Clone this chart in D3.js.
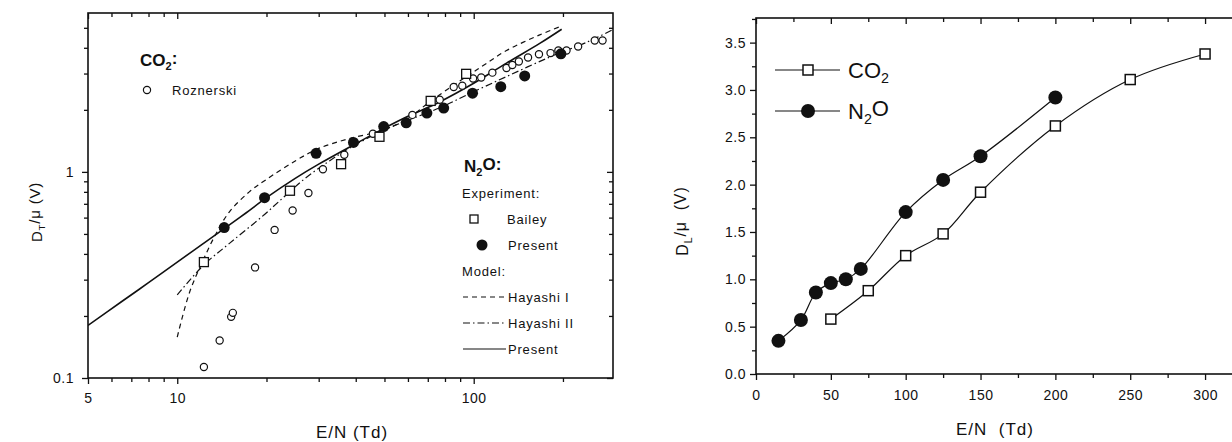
<!DOCTYPE html>
<html>
<head>
<meta charset="utf-8">
<script src="https://cdn.jsdelivr.net/npm/d3@7"></script>
<style>
body { margin: 0; background: #fff; }
svg { display: block; font-family: Arial, "Liberation Sans", sans-serif; }
.tick text { font-size: 14px; fill: #111; letter-spacing: 0.5px; }
.tick line { stroke: #111; stroke-width: 1.3; }
</style>
</head>
<body>
<script>
// ---- left panel: D_T/mu vs E/N (log-log)
const roznerskiX = [12.3, 13.9, 15.2, 15.4, 18.3, 21.3, 24.5, 27.7, 31.0, 36.6, 45.7, 62.1, 76.8, 85.6, 91.5, 99.5, 106, 115.6, 129, 135, 142, 152.5, 166, 181.6, 193, 205.6, 225, 256, 272]
const roznerskiY = [0.113, 0.152, 0.198, 0.207, 0.344, 0.523, 0.65, 0.79, 1.03, 1.21, 1.53, 1.89, 2.24, 2.58, 2.62, 2.84, 2.87, 3.03, 3.19, 3.30, 3.43, 3.59, 3.72, 3.77, 3.88, 3.88, 4.06, 4.34, 4.34]
const baileyX = [12.3, 24.0, 35.7, 48.1, 71.6, 94.3]
const baileyY = [0.365, 0.81, 1.09, 1.48, 2.21, 2.99]
const presentX = [14.4, 19.7, 29.4, 39.3, 49.7, 59.2, 69.5, 79.2, 99.1, 123.4, 148.6, 196.8]
const presentY = [0.537, 0.75, 1.23, 1.39, 1.66, 1.73, 1.93, 2.04, 2.41, 2.59, 2.92, 3.74]
const modelX = [5, 6.5, 8, 10, 12, 14.4, 17, 20, 25, 30, 40, 50, 60, 77, 100, 129, 167, 198]
const modelY = [0.18, 0.235, 0.29, 0.365, 0.44, 0.53, 0.63, 0.75, 0.93, 1.09, 1.37, 1.63, 1.86, 2.19, 2.69, 3.37, 4.2, 4.92]
const hay1X = [10, 11, 12.2, 13.5, 15, 17.5, 20, 25, 30, 38, 50, 60, 70, 85, 97, 110, 129, 167, 198]
const hay1Y = [0.158, 0.26, 0.37, 0.5, 0.64, 0.8, 0.92, 1.13, 1.3, 1.45, 1.6, 1.82, 2.15, 2.62, 2.97, 3.35, 3.88, 4.62, 5.1]
const hay2X = [10, 12.2, 15, 19.4, 23, 27, 32.6, 38, 49, 60, 77, 97, 129, 180, 240, 295]
const hay2Y = [0.253, 0.35, 0.45, 0.61, 0.76, 0.93, 1.13, 1.3, 1.58, 1.78, 2.05, 2.4, 2.9, 3.6, 4.25, 4.9]
const leftXTicks = [5, 10, 100]
const leftYTicks = [0.1, 1]

// ---- right panel: D_L/mu vs E/N
const co2X = [50, 75, 100, 125, 150, 200, 250, 300]
const co2Y = [0.58, 0.88, 1.25, 1.48, 1.92, 2.62, 3.11, 3.38]
const n2oX = [15, 30, 40, 50, 60, 70, 100, 125, 150, 200]
const n2oY = [0.35, 0.57, 0.86, 0.96, 1.0, 1.11, 1.71, 2.05, 2.30, 2.92]
const rightXTicks = [0, 50, 100, 150, 200, 250, 300]
const rightYTicks = [0, 0.5, 1.0, 1.5, 2.0, 2.5, 3.0, 3.5]

const W = 1232, H = 442
const svg = d3.select('body').append('svg').attr('width', W).attr('height', H)

const zip = (xs, ys) => xs.map((x, i) => [x, ys[i]])

function frame(g, x0, y0, x1, y1) {
    g.append('rect')
        .attr('x', x0).attr('y', y0)
        .attr('width', x1 - x0).attr('height', y1 - y0)
        .attr('fill', 'none').attr('stroke', '#111').attr('stroke-width', 1.6)
}

function subText(sel, parts) {
    // parts: [text, isSub, backUp]
    parts.forEach(p => {
        const t = sel.append('tspan').text(p[0])
        if (p[1]) t.attr('font-size', '0.65em').attr('dy', '0.35em')
        else if (p[2]) t.attr('dy', '-0.35em')
    })
}

// ================= LEFT PANEL =================
const L = {x0: 88, x1: 613, y0: 13, y1: 378}
const xL = d3.scaleLog().domain([5, 295]).range([L.x0, L.x1])
const yL = d3.scaleLog().domain([0.1, 5.9]).range([L.y1, L.y0])
const gl = svg.append('g')

const minorXL = [6, 7, 8, 9, 20, 30, 40, 50, 60, 70, 80, 90, 200]
const minorYL = [0.2, 0.3, 0.4, 0.5, 0.6, 0.7, 0.8, 0.9, 2, 3, 4, 5]

function axesL() {
    const fmt = d => String(d)
    gl.append('g').attr('transform', `translate(0,${L.y1})`)
        .call(d3.axisBottom(xL).tickValues(leftXTicks).tickFormat(fmt).tickSize(6).tickPadding(9).tickSizeOuter(0))
    gl.append('g').attr('transform', `translate(0,${L.y1})`)
        .call(d3.axisBottom(xL).tickValues(minorXL).tickFormat('').tickSize(4).tickSizeOuter(0))
    gl.append('g').attr('transform', `translate(0,${L.y0})`)
        .call(d3.axisTop(xL).tickValues(leftXTicks).tickFormat('').tickSize(-6).tickSizeOuter(0))
    gl.append('g').attr('transform', `translate(0,${L.y0})`)
        .call(d3.axisTop(xL).tickValues(minorXL).tickFormat('').tickSize(-4).tickSizeOuter(0))
    gl.append('g').attr('transform', `translate(${L.x0},0)`)
        .call(d3.axisLeft(yL).tickValues(leftYTicks).tickFormat(fmt).tickSize(6).tickPadding(8).tickSizeOuter(0))
    gl.append('g').attr('transform', `translate(${L.x0},0)`)
        .call(d3.axisLeft(yL).tickValues(minorYL).tickFormat('').tickSize(4).tickSizeOuter(0))
    gl.append('g').attr('transform', `translate(${L.x1},0)`)
        .call(d3.axisRight(yL).tickValues(leftYTicks).tickFormat('').tickSize(-6).tickSizeOuter(0))
    gl.append('g').attr('transform', `translate(${L.x1},0)`)
        .call(d3.axisRight(yL).tickValues(minorYL).tickFormat('').tickSize(-4).tickSizeOuter(0))
    gl.selectAll('.domain').remove()
    frame(gl, L.x0, L.y0, L.x1, L.y1)
}
axesL()

const lineL = d3.line().x(d => xL(d[0])).y(d => yL(d[1])).curve(d3.curveCatmullRom)
const clipL = svg.append('clipPath').attr('id', 'clipL')
clipL.append('rect').attr('x', L.x0).attr('y', L.y0).attr('width', L.x1 - L.x0).attr('height', L.y1 - L.y0)
const plotL = gl.append('g').attr('clip-path', 'url(#clipL)')

plotL.append('path').datum(zip(modelX, modelY)).attr('d', lineL)
    .attr('fill', 'none').attr('stroke', '#111').attr('stroke-width', 1.6)
plotL.append('path').datum(zip(hay1X, hay1Y)).attr('d', lineL)
    .attr('fill', 'none').attr('stroke', '#111').attr('stroke-width', 1.2).attr('stroke-dasharray', '5,4')
plotL.append('path').datum(zip(hay2X, hay2Y)).attr('d', lineL)
    .attr('fill', 'none').attr('stroke', '#111').attr('stroke-width', 1.2).attr('stroke-dasharray', '7,3,1.5,3')

plotL.selectAll('.roz').data(zip(roznerskiX, roznerskiY)).enter().append('circle')
    .attr('cx', d => xL(d[0])).attr('cy', d => yL(d[1])).attr('r', 3.6)
    .attr('fill', '#fff').attr('stroke', '#111').attr('stroke-width', 1.2)
plotL.selectAll('.bai').data(zip(baileyX, baileyY)).enter().append('rect')
    .attr('x', d => xL(d[0]) - 4.5).attr('y', d => yL(d[1]) - 4.5).attr('width', 9).attr('height', 9)
    .attr('fill', '#fff').attr('stroke', '#111').attr('stroke-width', 1.3)
plotL.selectAll('.pre').data(zip(presentX, presentY)).enter().append('circle')
    .attr('cx', d => xL(d[0])).attr('cy', d => yL(d[1])).attr('r', 5.5)
    .attr('fill', '#111')

// left legend
const lg = gl.append('g').attr('fill', '#111')
const co2Title = lg.append('text').attr('x', 140).attr('y', 66).attr('font-size', 17).attr('font-weight', 'bold')
subText(co2Title, [['CO'], ['2', true], [':', false, true]])
lg.append('circle').attr('cx', 147).attr('cy', 90).attr('r', 3.6).attr('fill', '#fff').attr('stroke', '#111').attr('stroke-width', 1.2)
lg.append('text').attr('x', 172).attr('y', 95).attr('font-size', 13).attr('letter-spacing', 0.8).text('Roznerski')

const n2oTitle = lg.append('text').attr('x', 464).attr('y', 172).attr('font-size', 17).attr('font-weight', 'bold')
subText(n2oTitle, [['N'], ['2', true], ['O:', false, true]])
const legRows = [
    {y: 193, label: 'Experiment:', x: 462},
    {y: 219, label: 'Bailey', x: 507, mark: 'square'},
    {y: 245, label: 'Present', x: 508, mark: 'dot'},
    {y: 271, label: 'Model:', x: 462},
    {y: 297, label: 'Hayashi I', x: 508, mark: '5,4'},
    {y: 323, label: 'Hayashi II', x: 508, mark: '7,3,1.5,3'},
    {y: 349, label: 'Present', x: 508, mark: 'solid'}
]
legRows.forEach(r => {
    lg.append('text').attr('x', r.x).attr('y', r.y + 5).attr('font-size', 13).attr('letter-spacing', 0.8).text(r.label)
    if (r.mark === 'square') {
        lg.append('rect').attr('x', 470).attr('y', r.y - 4).attr('width', 8).attr('height', 8)
            .attr('fill', '#fff').attr('stroke', '#111').attr('stroke-width', 1.3)
    } else if (r.mark === 'dot') {
        lg.append('circle').attr('cx', 482).attr('cy', r.y).attr('r', 5.5).attr('fill', '#111')
    } else if (r.mark) {
        lg.append('line').attr('x1', 463).attr('x2', 506).attr('y1', r.y).attr('y2', r.y)
            .attr('stroke', '#111').attr('stroke-width', 1.2)
            .attr('stroke-dasharray', r.mark === 'solid' ? null : r.mark)
    }
})

// left axis titles
gl.append('text').attr('x', 352).attr('y', 438).attr('text-anchor', 'middle')
    .attr('font-size', 17).attr('letter-spacing', 1).attr('fill', '#111').text('E/N (Td)')
const ylabL = gl.append('text').attr('transform', 'translate(42,212) rotate(-90)')
    .attr('text-anchor', 'middle').attr('font-size', 15).attr('letter-spacing', 0.8).attr('fill', '#111')
subText(ylabL, [['D'], ['T', true], ['/\u03bc (V)', false, true]])

// ================= RIGHT PANEL =================
const R = {x0: 756, x1: 1235, y0: 18, y1: 374}
const xR = d3.scaleLinear().domain([0, 320]).range([R.x0, R.x1])
const yR = d3.scaleLinear().domain([0, 3.76]).range([R.y1, R.y0])
const gr = svg.append('g')

const minorXR = d3.range(25, 325, 50)
const minorYR = d3.range(0.25, 3.76, 0.5)

gr.append('g').attr('transform', `translate(0,${R.y1})`)
    .call(d3.axisBottom(xR).tickValues(rightXTicks).tickFormat(d3.format('d')).tickSize(6).tickPadding(10).tickSizeOuter(0))
gr.append('g').attr('transform', `translate(0,${R.y1})`)
    .call(d3.axisBottom(xR).tickValues(minorXR).tickFormat('').tickSize(4).tickSizeOuter(0))
gr.append('g').attr('transform', `translate(0,${R.y0})`)
    .call(d3.axisTop(xR).tickValues(rightXTicks).tickFormat('').tickSize(-6).tickSizeOuter(0))
gr.append('g').attr('transform', `translate(0,${R.y0})`)
    .call(d3.axisTop(xR).tickValues(minorXR).tickFormat('').tickSize(-4).tickSizeOuter(0))
gr.append('g').attr('transform', `translate(${R.x0},0)`)
    .call(d3.axisLeft(yR).tickValues(rightYTicks).tickFormat(d3.format('.1f')).tickSize(6).tickPadding(4).tickSizeOuter(0))
gr.append('g').attr('transform', `translate(${R.x0},0)`)
    .call(d3.axisLeft(yR).tickValues(minorYR).tickFormat('').tickSize(4).tickSizeOuter(0))
gr.selectAll('.domain').remove()
frame(gr, R.x0, R.y0, R.x1, R.y1)

const lineR = d3.line().x(d => xR(d[0])).y(d => yR(d[1])).curve(d3.curveCatmullRom)
gr.append('path').datum(zip(co2X, co2Y)).attr('d', lineR)
    .attr('fill', 'none').attr('stroke', '#111').attr('stroke-width', 1.2)
gr.append('path').datum(zip(n2oX, n2oY)).attr('d', lineR)
    .attr('fill', 'none').attr('stroke', '#111').attr('stroke-width', 1.2)
gr.selectAll('.co2').data(zip(co2X, co2Y)).enter().append('rect')
    .attr('x', d => xR(d[0]) - 5).attr('y', d => yR(d[1]) - 5).attr('width', 10).attr('height', 10)
    .attr('fill', '#fff').attr('stroke', '#111').attr('stroke-width', 1.5)
gr.selectAll('.n2o').data(zip(n2oX, n2oY)).enter().append('circle')
    .attr('cx', d => xR(d[0])).attr('cy', d => yR(d[1])).attr('r', 7)
    .attr('fill', '#111')

// right legend
const rl = gr.append('g')
rl.append('line').attr('x1', 775).attr('x2', 840).attr('y1', 70).attr('y2', 70).attr('stroke', '#111').attr('stroke-width', 1.2)
rl.append('rect').attr('x', 803).attr('y', 65).attr('width', 10).attr('height', 10)
    .attr('fill', '#fff').attr('stroke', '#111').attr('stroke-width', 1.5)
const rt1 = rl.append('text').attr('x', 848).attr('y', 78).attr('font-size', 22).attr('fill', '#111')
subText(rt1, [['CO'], ['2', true]])
rl.append('line').attr('x1', 775).attr('x2', 840).attr('y1', 111).attr('y2', 111).attr('stroke', '#111').attr('stroke-width', 1.2)
rl.append('circle').attr('cx', 808).attr('cy', 111).attr('r', 7).attr('fill', '#111')
const rt2 = rl.append('text').attr('x', 848).attr('y', 119).attr('font-size', 22).attr('fill', '#111')
subText(rt2, [['N'], ['2', true], ['O', false, true]])

gr.append('text').attr('x', 995).attr('y', 435).attr('text-anchor', 'middle')
    .attr('font-size', 17).attr('letter-spacing', 1).attr('fill', '#111').text('E/N  (Td)').style('white-space', 'pre')
const ylabR = gr.append('text').attr('transform', 'translate(688,221) rotate(-90)')
    .attr('text-anchor', 'middle').attr('font-size', 16).attr('letter-spacing', 0.9).attr('fill', '#111')
subText(ylabR, [['D'], ['L', true], ['/\u03bc  (V)', false, true]])
ylabR.style('white-space', 'pre')
</script>
</body>
</html>
